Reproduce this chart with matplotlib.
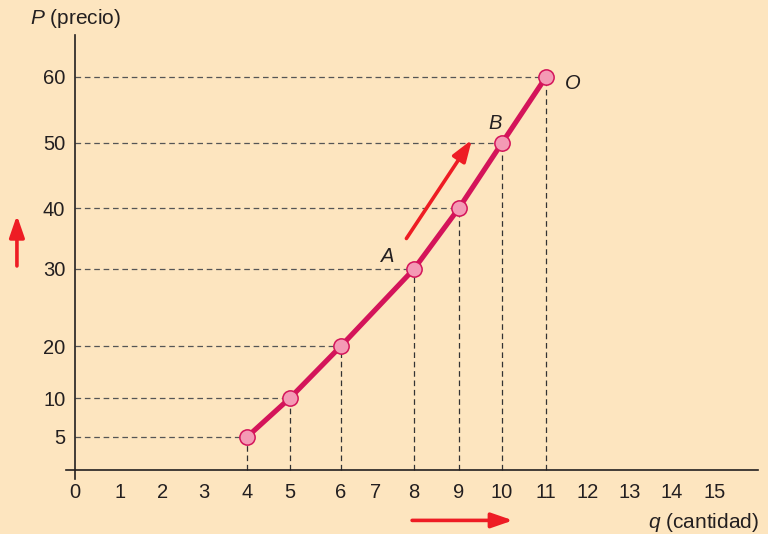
import numpy as np
import matplotlib
matplotlib.use("Agg")
import matplotlib.pyplot as plt

# datos de la curva de oferta
q = [4, 5, 6, 8, 9, 10, 11]
p = [5, 10, 20, 30, 40, 50, 60]
x_ticks = list(range(16))
y_ticks = [5, 10, 20, 30, 40, 50, 60]

W, H = 768, 534
BG = "#FDE5BF"
CURVE = "#D4145A"
MARK = "#F49AB5"
ARROW = "#EE1C24"
TXT = "#231F20"

# the drawing is schematic: ticks are not evenly spaced, map them to where they sit
qk = np.array([-3, 0, 1, 2, 3, 4, 5, 6, 7, 8, 9, 10, 11, 12, 13, 14, 15, 18])
xk = np.array([75 - 3 * 42.7, 75, 120, 163, 204, 247, 290, 341, 376, 414, 459,
               502, 546, 588, 630, 672, 715, 715 + 3 * 42.7])
pk = np.array([-20, 0, 5, 10, 20, 30, 40, 50, 60, 80])
yk = H - np.array([470 + 20 * 6.3, 470, 437, 398, 346, 269, 208, 143, 77, 77 - 20 * 6.5])

plt.rcParams['font.family'] = ['Liberation Sans', 'DejaVu Sans']
plt.rcParams['mathtext.fontset'] = 'custom'
plt.rcParams['mathtext.it'] = 'Liberation Sans:italic'
plt.rcParams['mathtext.rm'] = 'Liberation Sans'

fig = plt.figure(figsize=(W / 100, H / 100), dpi=100, facecolor=BG)
ax = fig.add_axes([0, 0, 1, 1], facecolor=BG)
ax.set_xscale('function', functions=(lambda v: np.interp(v, qk, xk),
                                     lambda v: np.interp(v, xk, qk)))
ax.set_yscale('function', functions=(lambda v: np.interp(v, pk, yk),
                                     lambda v: np.interp(v, yk, pk)))
ax.set_xlim(np.interp(0, xk, qk), np.interp(W, xk, qk))
ax.set_ylim(np.interp(0, yk, pk), np.interp(H, yk, pk))

# ejes
for s in ['top', 'right']:
    ax.spines[s].set_visible(False)
ax.spines['left'].set_position(('data', 0))
ax.spines['bottom'].set_position(('data', 0))
ax.spines['left'].set_bounds(-1.5, 66.5)
ax.spines['bottom'].set_bounds(-0.2, 16.0)
for s in ['left', 'bottom']:
    ax.spines[s].set_color(TXT)
    ax.spines[s].set_linewidth(1.2)

ax.set_xticks(x_ticks)
ax.set_xticklabels([str(v) for v in x_ticks])
ax.set_yticks(y_ticks)
ax.set_yticklabels([str(v) for v in y_ticks])
ax.tick_params(axis='x', length=0, pad=9, labelsize=14.5, labelcolor=TXT)
ax.tick_params(axis='y', length=0, pad=7, labelsize=14.5, labelcolor=TXT)

# lineas guia
for qi, pi in zip(q, p):
    ax.plot([0, qi], [pi, pi], ls=(0, (4.5, 3)), lw=0.9, color='#555555', zorder=1)
    ax.plot([qi, qi], [0, pi], ls=(0, (4.5, 3)), lw=0.9, color='#333333', zorder=1)

ax.plot(q, p, color=CURVE, lw=3.7, solid_capstyle='round', solid_joinstyle='round', zorder=2)
ax.plot(q, p, 'o', ms=11, mfc=MARK, mec=CURVE, mew=1.1, zorder=3)

# letras
ax.annotate('A', (8, 30), xytext=(-19, 9), textcoords='offset points',
            fontsize=14.5, style='italic', color=TXT, ha='center', va='center')
ax.annotate('B', (10, 50), xytext=(-5, 14), textcoords='offset points',
            fontsize=14.5, style='italic', color=TXT, ha='center', va='center')
ax.annotate('O', (11, 60), xytext=(19, -5), textcoords='offset points',
            fontsize=14.5, style='italic', color=TXT, ha='center', va='center')

# flechas
arr = dict(arrowstyle='-|>,head_length=1.3,head_width=0.45', color=ARROW, lw=2.6,
           shrinkA=0, shrinkB=0)
ax.annotate('', xy=(9.3, 50.5), xytext=(7.8, 35), arrowprops=arr)
ax.annotate('', xy=(-1.36, 38.8), xytext=(-1.36, 30.5), arrowprops=arr)
ax.annotate('', xy=(10.25, -8), xytext=(7.95, -8), arrowprops=arr,
            annotation_clip=False)

fig.text(30 / W, 1 - 19 / H, r'$\it{P}$ (precio)', fontsize=15, color=TXT, va='center')
fig.text(759 / W, 1 - 522 / H, r'$\it{q}$ (cantidad)', fontsize=15, color=TXT,
         va='center', ha='right')

fig.savefig('out.png', dpi=100, facecolor=BG)
